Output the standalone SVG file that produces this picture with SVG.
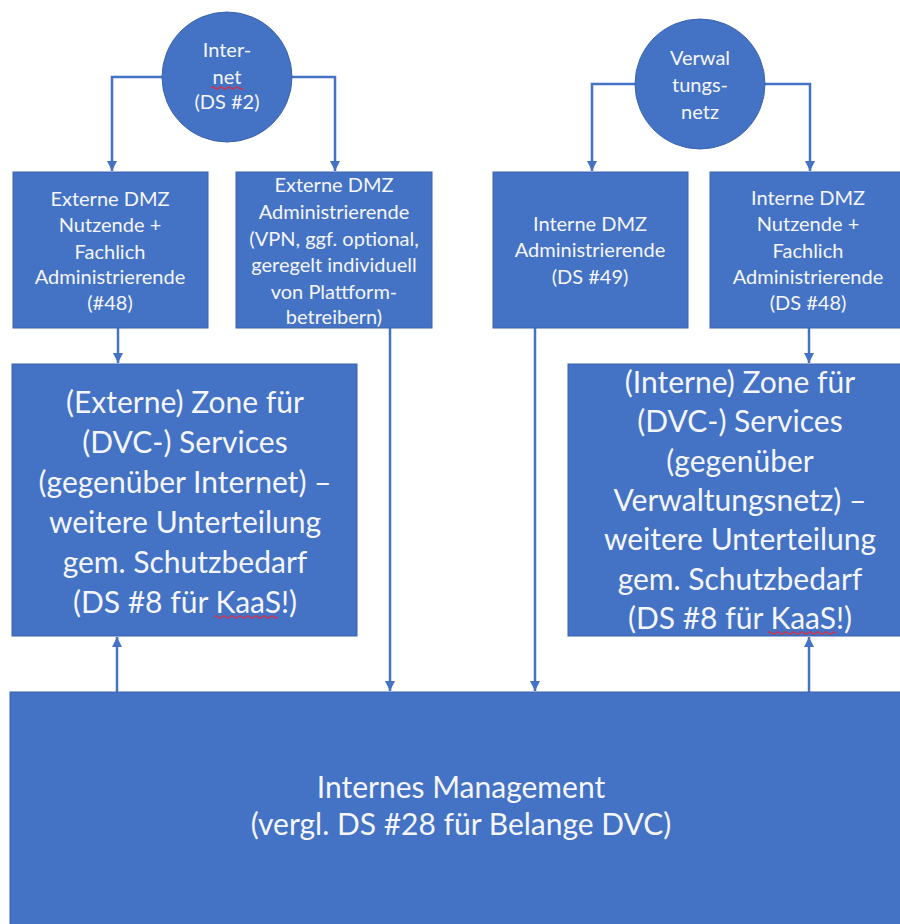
<svg xmlns="http://www.w3.org/2000/svg" width="900" height="924" viewBox="0 0 900 924">
<defs>
<style>
.box{fill:#4472C4;stroke:#3A63AD;stroke-width:1}
.t{font-family:Lato,"Liberation Sans",sans-serif;fill:#F4F6FB;text-anchor:middle}
.s{font-size:20px}
.b{font-size:30px}
.c{fill:none;stroke:#4472C4;stroke-width:2.5}
.sq{fill:none;stroke:#D0344F;stroke-width:1.2}
</style>
<marker id="ah" markerUnits="userSpaceOnUse" markerWidth="10" markerHeight="10" viewBox="0 0 10 10" refX="10" refY="5" orient="auto">
<path d="M0,0 L10,5 L0,10 z" fill="#4472C4"/>
</marker>
</defs>
<rect width="900" height="924" fill="#FFFFFF"/>

<g id="connectors">
<path class="c" d="M162,77 H112 V171" marker-end="url(#ah)"/>
<path class="c" d="M291,77 H335 V171" marker-end="url(#ah)"/>
<path class="c" d="M635,84 H592 V171" marker-end="url(#ah)"/>
<path class="c" d="M765,84 H810 V171" marker-end="url(#ah)"/>
<path class="c" d="M118,328 V363" marker-end="url(#ah)"/>
<path class="c" d="M390,328 V691" marker-end="url(#ah)"/>
<path class="c" d="M535,328 V691" marker-end="url(#ah)"/>
<path class="c" d="M809,328 V363" marker-end="url(#ah)"/>
<path class="c" d="M117,692 V637" marker-end="url(#ah)"/>
<path class="c" d="M809,692 V637" marker-end="url(#ah)"/>
</g>

<g id="internet">
<circle class="box" cx="227" cy="77" r="65"/>
<text class="t s" x="227" y="57">Inter-</text>
<text class="t s" x="227" y="84">net</text>
<text class="t s" x="227" y="109">(DS #2)</text>
<path class="sq" d="M211,88 q2,-2 4,0 t4,0 t4,0 t4,0 t4,0 t4,0 t4,0 t4,0"/>
</g>

<g id="verwaltungsnetz">
<circle class="box" cx="700" cy="84" r="65"/>
<text class="t s" x="700" y="65">Verwal</text>
<text class="t s" x="700" y="92">tungs-</text>
<text class="t s" x="700" y="119">netz</text>
</g>

<g id="ext-dmz-nutzende">
<rect class="box" x="13" y="172" width="195" height="156"/>
<text class="t s" x="110" y="206">Externe DMZ</text>
<text class="t s" x="110" y="232">Nutzende +</text>
<text class="t s" x="110" y="259">Fachlich</text>
<text class="t s" x="110" y="284">Administrierende</text>
<text class="t s" x="110" y="310">(#48)</text>
</g>

<g id="ext-dmz-admin">
<rect class="box" x="236" y="172" width="196" height="156"/>
<text class="t s" x="334" y="192">Externe DMZ</text>
<text class="t s" x="334" y="219">Administrierende</text>
<text class="t s" x="334" y="246">(VPN, ggf. optional,</text>
<text class="t s" x="334" y="272">geregelt individuell</text>
<text class="t s" x="334" y="299">von Plattform-</text>
<text class="t s" x="334" y="324">betreibern)</text>
</g>

<g id="int-dmz-admin">
<rect class="box" x="493" y="172" width="195" height="156"/>
<text class="t s" x="590" y="231">Interne DMZ</text>
<text class="t s" x="590" y="257">Administrierende</text>
<text class="t s" x="590" y="284">(DS #49)</text>
</g>

<g id="int-dmz-nutzende">
<rect class="box" x="710" y="172" width="200" height="156"/>
<text class="t s" x="808" y="205">Interne DMZ</text>
<text class="t s" x="808" y="231">Nutzende +</text>
<text class="t s" x="808" y="258">Fachlich</text>
<text class="t s" x="808" y="284">Administrierende</text>
<text class="t s" x="808" y="310">(DS #48)</text>
</g>

<g id="ext-zone">
<rect class="box" x="12" y="364" width="345" height="272"/>
<text class="t b" x="185" y="413">(Externe) Zone für</text>
<text class="t b" x="185" y="453">(DVC-) Services</text>
<text class="t b" x="185" y="493">(gegenüber Internet) –</text>
<text class="t b" x="185" y="533">weitere Unterteilung</text>
<text class="t b" x="185" y="573">gem. Schutzbedarf</text>
<text class="t b" x="185" y="613">(DS #8 für KaaS!)</text>
<path class="sq" d="M214,617 q2,-2 4,0 t4,0 t4,0 t4,0 t4,0 t4,0 t4,0 t4,0 t4,0 t4,0 t4,0 t4,0 t4,0 t4,0 t4,0 t4,0"/>
</g>

<g id="int-zone">
<rect class="box" x="568" y="364" width="342" height="272"/>
<text class="t b" x="740" y="393">(Interne) Zone für</text>
<text class="t b" x="740" y="432">(DVC-) Services</text>
<text class="t b" x="740" y="472">(gegenüber</text>
<text class="t b" x="740" y="511">Verwaltungsnetz) –</text>
<text class="t b" x="740" y="550">weitere Unterteilung</text>
<text class="t b" x="740" y="590">gem. Schutzbedarf</text>
<text class="t b" x="740" y="629">(DS #8 für KaaS!)</text>
<path class="sq" d="M768,633 q2,-2 4,0 t4,0 t4,0 t4,0 t4,0 t4,0 t4,0 t4,0 t4,0 t4,0 t4,0 t4,0 t4,0 t4,0 t4,0 t4,0 t4,0"/>
</g>

<g id="internes-management">
<rect class="box" x="10" y="692" width="900" height="240"/>
<text class="t b" x="461" y="798">Internes Management</text>
<text class="t b" x="461" y="835">(vergl. DS #28 für Belange DVC)</text>
</g>
</svg>
